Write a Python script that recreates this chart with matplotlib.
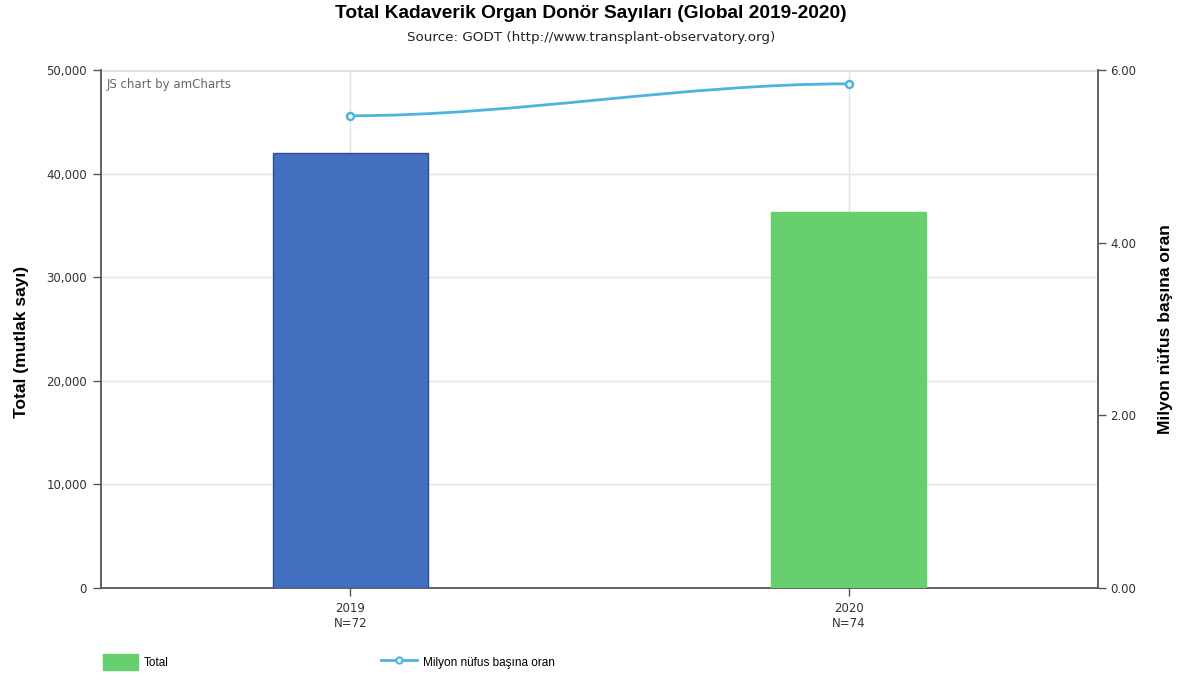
import matplotlib
matplotlib.use("Agg")
import matplotlib.pyplot as plt
from matplotlib.path import Path
from matplotlib.patches import PathPatch, Patch
from matplotlib.lines import Line2D
from matplotlib.ticker import FuncFormatter

years = ["2019", "2020"]
n_labels = ["N=72", "N=74"]
totals = [42000, 36300]
rates = [5.47, 5.84]
bar_colors = ["#426FC0", "#67CF6E"]
bar_edges = ["#2F4F8F", "#67CF6E"]
line_color = "#4BB4DF"

fig = plt.figure(figsize=(11.82, 6.8), dpi=100)
ax = fig.add_axes([101/1182, 1-588/680, (1098-101)/1182, (588-70)/680])
ax2 = ax.twinx()

x = list(range(len(years)))
ax.bar(x, totals, width=0.31, color=bar_colors, edgecolor=bar_edges, linewidth=1, zorder=3)
ax.set_xlim(-0.5, len(years)-0.5)
ax.set_ylim(0, 50000)
ax.set_yticks(range(0, 50001, 10000))
ax.yaxis.set_major_formatter(FuncFormatter(lambda v, p: f"{int(v):,}"))
ax.set_xticks(x)
ax.set_xticklabels([f"{y}\n{n}" for y, n in zip(years, n_labels)], fontsize=8.5, color="#333333", linespacing=1.2)
ax.grid(True, color="#E3E3E3", linewidth=1, zorder=0)
ax.set_axisbelow(True)
ax.tick_params(axis="y", labelsize=8.5, colors="#333333", length=6, width=1, pad=4)
ax.tick_params(axis="x", length=6, width=1, color="#555555", pad=4)
ax.tick_params(axis="y", color="#555555")
for s in ["top", "right"]:
    ax.spines[s].set_visible(False)
ax.spines["left"].set_color("#555555")
ax.spines["bottom"].set_color("#555555")
ax.spines["left"].set_linewidth(1.3)
ax.spines["bottom"].set_linewidth(1.3)
ax.axhline(50000, color="#E0E0E0", linewidth=2, zorder=1)
ax.set_ylabel("Total (mutlak sayı)", fontsize=12.5, fontweight="bold", family="Liberation Sans")
ax.yaxis.set_label_coords((29-101)/997, 0.475)

ax2.set_ylim(0, 6)
ax2.set_yticks([0, 2, 4, 6])
ax2.yaxis.set_major_formatter(FuncFormatter(lambda v, p: f"{v:.2f}"))
ax2.tick_params(axis="y", labelsize=8.5, colors="#333333", length=6, width=1, pad=3)
ax2.tick_params(axis="y", color="#555555")
for s in ["top", "left", "bottom"]:
    ax2.spines[s].set_visible(False)
ax2.spines["right"].set_color("#555555")
ax2.spines["right"].set_linewidth(1.3)
ax2.set_ylabel("Milyon nüfus başına oran", fontsize=12.5, fontweight="bold", family="Liberation Sans")
ax2.yaxis.set_label_coords((1158-101)/997, 0.5)

# smooth line between points (cubic segments)
verts = [(x[0], rates[0])]
codes = [Path.MOVETO]
for i in range(len(x)-1):
    dx = x[i+1] - x[i]
    verts += [(x[i] + dx/3, rates[i]), (x[i+1] - dx/3, rates[i+1]), (x[i+1], rates[i+1])]
    codes += [Path.CURVE4, Path.CURVE4, Path.CURVE4]
ax2.add_patch(PathPatch(Path(verts, codes), facecolor="none", edgecolor=line_color, linewidth=2, zorder=4))
ax2.plot(x, rates, linestyle="none", marker="o", markersize=5, markerfacecolor="white",
         markeredgecolor=line_color, markeredgewidth=1.8, zorder=5)

ax.text(0.006, 0.985, "JS chart by amCharts", transform=ax.transAxes, fontsize=8.5, color="#666666", va="top", ha="left")

fig.text(0.5, 1-14/680, "Total Kadaverik Organ Donör Sayıları (Global 2019-2020)", ha="center", va="center",
         fontsize=13.8, fontweight="bold", family="Liberation Sans")
fig.text(0.5, 1-38/680, "Source: GODT (http://www.transplant-observatory.org)", ha="center", va="center",
         fontsize=9.7, color="#222222")

handles = [Patch(facecolor="#67CF6E", edgecolor="#67CF6E"),
           Line2D([0], [0], color=line_color, linewidth=2, marker="o", markersize=4.5,
                  markerfacecolor="white", markeredgecolor=line_color, markeredgewidth=1.5)]
fig.legend(handles, ["Total", "Milyon nüfus başına oran"], loc="center left",
           bbox_to_anchor=(92/1182, 1-662/680), ncol=2, frameon=False,
           handlelength=3.0, handleheight=1.6, columnspacing=18.0, handletextpad=0.5,
           prop={"family": "Liberation Sans", "size": 8.5})

fig.savefig("out.png", dpi=100)
